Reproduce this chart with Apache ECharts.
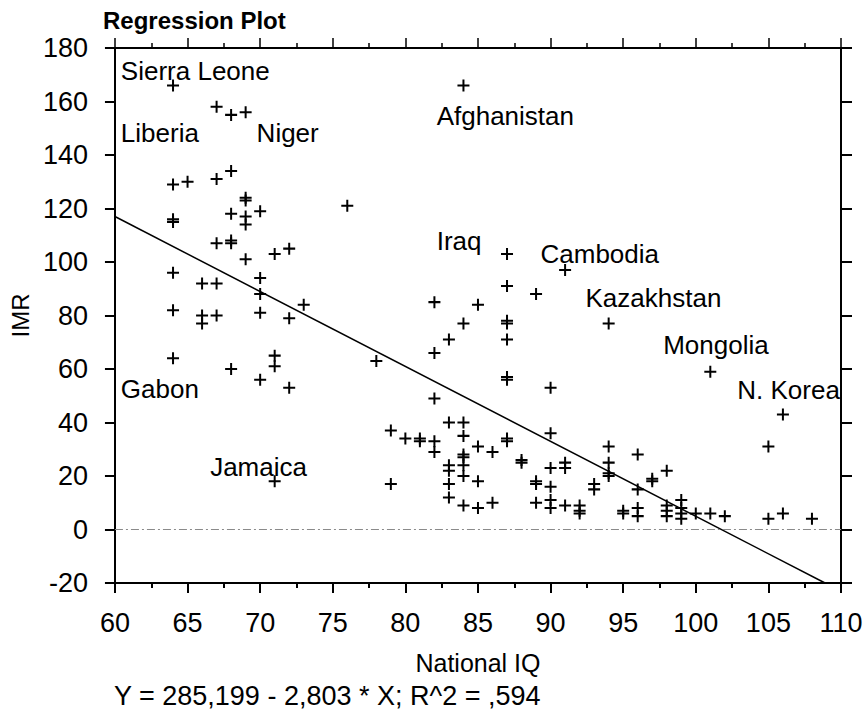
<!DOCTYPE html>
<html>
<head>
<meta charset="utf-8">
<title>Regression Plot</title>
<script src="https://cdn.jsdelivr.net/npm/echarts@6/dist/echarts.min.js"></script>
<style>
  html, body { margin: 0; padding: 0; background: #fff; }
  #chart { width: 868px; height: 712px; }
</style>
</head>
<body>
<div id="chart"></div>
<script>
// National IQ (x) and infant mortality rate (y), one entry per country
const iq = [
  64, 67, 68, 69, 64, 65, 67, 68, 69, 69, 70, 68, 69, 69, 64, 64, 76,
  67, 68, 68, 69, 71, 72, 64, 66, 67, 70, 70, 73,
  64, 66, 66, 67, 70, 72, 64, 68, 71, 71, 70, 72, 71,
  84, 87, 91, 87, 89, 82, 85, 84, 87, 87, 83, 87, 94, 82, 78, 87, 87, 90, 82, 101, 106,
  83, 84, 84, 79, 80, 81, 81, 82, 82, 85, 86, 87, 87, 90, 88, 88, 84, 84,
  83, 83, 84, 84, 90, 91, 91, 79, 83, 85, 89, 89, 90, 83, 84, 85, 86, 89, 90, 90, 91, 92, 92, 92,
  94, 94, 94, 94, 96, 98, 97, 97, 96, 93, 93, 95, 95, 96, 96, 98, 98, 98,
  99, 99, 99, 99, 100, 101, 102, 105, 105, 106, 108
];
const imr = [
  166, 158, 155, 156, 129, 130, 131, 134, 123, 124, 119, 118, 117, 114, 115, 116, 121,
  107, 107, 108, 101, 103, 105, 96, 92, 92, 94, 88, 84,
  82, 80, 77, 80, 81, 79, 64, 60, 65, 61, 56, 53, 18,
  166, 103, 97, 91, 88, 85, 84, 77, 77, 78, 71, 71, 77, 66, 63, 56, 57, 53, 49, 59, 43,
  40, 40, 35, 37, 34, 33, 34, 33, 29, 31, 29, 33, 34, 36, 25, 26, 27, 28,
  24, 22, 24, 20, 23, 25, 23, 17, 17, 18, 17, 18, 16, 12, 9, 8, 10, 10, 11, 8, 9, 9, 7, 6,
  31, 25, 20, 21, 28, 22, 18, 19, 15, 15, 17, 6, 7, 8, 5, 5, 7, 9,
  11, 8, 6, 4, 6, 6, 5, 31, 4, 6, 4
];

// fitted line Y = 285,199 - 2,803 * X, drawn from the left edge to the bottom edge
const fitX = [60, 108.9];
const fitY = [117.0, -20];

// country annotations (left edge of text, vertical middle)
const labelNames = ['Sierra Leone', 'Liberia', 'Niger', 'Afghanistan', 'Iraq', 'Cambodia',
  'Kazakhstan', 'Mongolia', 'N. Korea', 'Gabon', 'Jamaica'];
const labelX = [60.75, 60.75, 70.1, 82.5, 82.5, 89.65, 92.75, 98.1, 103.2, 60.75, 66.9];
const labelY = [171.3, 148.4, 148.4, 154.4, 108, 103.1, 86.6, 69, 52.2, 52.5, 23.3];

const equationText = 'Y = 285,199 - 2,803 * X; R^2 = ,594';

const FONT = 'Arial, "Liberation Sans", Helvetica, sans-serif';
const plus = 'path://M5,0H7V5H12V7H7V12H5V7H0V5H5Z';

const chart = echarts.init(document.getElementById('chart'), null, { renderer: 'svg' });

const axisLine = { show: true, onZero: false, lineStyle: { color: '#000', width: 2 } };

chart.setOption({
  backgroundColor: '#fff',
  animation: false,
  title: {
    text: 'Regression Plot',
    left: 98,
    top: 3,
    textStyle: { fontFamily: FONT, fontSize: 24, fontWeight: 'bold', color: '#000' },
  },
  graphic: [{
    type: 'text',
    left: 114,
    top: 682,
    style: { text: equationText, font: '27px ' + FONT, fill: '#000' },
  }],
  grid: { left: 110, right: 27, top: 48, bottom: 129 },
  xAxis: [
    {
      type: 'value',
      position: 'bottom',
      min: 60,
      max: 110,
      interval: 5,
      name: 'National IQ',
      nameLocation: 'middle',
      nameGap: 67,
      nameTextStyle: { fontFamily: FONT, fontSize: 25, color: '#000' },
      axisLine,
      axisTick: { show: true, length: 10, lineStyle: { color: '#000', width: 2 } },
      minorTick: { show: true, splitNumber: 2, length: 5, lineStyle: { color: '#000', width: 2 } },
      axisLabel: { margin: 26, fontFamily: FONT, fontSize: 27, color: '#000' },
      splitLine: { show: false },
    },
    {
      type: 'value',
      position: 'top',
      min: 60,
      max: 110,
      interval: 5,
      axisLine,
      axisTick: { show: true, length: 10, lineStyle: { color: '#000', width: 1.5 } },
      minorTick: { show: true, splitNumber: 2, length: 5, lineStyle: { color: '#000', width: 1.5 } },
      axisLabel: { show: false },
      splitLine: { show: false },
    },
  ],
  yAxis: [
    {
      type: 'value',
      position: 'left',
      min: -20,
      max: 180,
      interval: 20,
      name: 'IMR',
      nameLocation: 'middle',
      nameGap: 80,
      nameTextStyle: { fontFamily: FONT, fontSize: 24, color: '#000' },
      axisLine,
      axisTick: { show: true, length: 10, lineStyle: { color: '#000', width: 2 } },
      axisLabel: { margin: 27, fontFamily: FONT, fontSize: 27, color: '#000' },
      splitLine: { show: false },
    },
    {
      type: 'value',
      position: 'right',
      min: -20,
      max: 180,
      interval: 20,
      axisLine,
      axisTick: { show: true, length: 11, lineStyle: { color: '#000', width: 2 } },
      axisLabel: { show: false },
      splitLine: { show: false },
    },
  ],
  series: [
    {
      name: 'Countries',
      type: 'scatter',
      symbol: plus,
      symbolSize: 12,
      itemStyle: { color: '#000', opacity: 1 },
      data: iq.map((x, i) => [x, imr[i]]),
      z: 3,
    },
    {
      name: 'Fit',
      type: 'line',
      showSymbol: false,
      symbol: 'none',
      lineStyle: { color: '#000', width: 1.5 },
      data: fitX.map((x, i) => [x, fitY[i]]),
      markLine: {
        silent: true,
        symbol: 'none',
        label: { show: false },
        lineStyle: { color: '#8a8a8a', type: [8, 3, 2, 3], width: 1 },
        data: [{ yAxis: 0 }],
      },
      z: 2,
    },
    {
      name: 'Labels',
      type: 'scatter',
      symbolSize: 0,
      itemStyle: { color: '#000', opacity: 1 },
      data: labelX.map((x, i) => ({ value: [x, labelY[i]], name: labelNames[i] })),
      label: {
        show: true,
        position: 'inside',
        align: 'left',
        verticalAlign: 'middle',
        offset: [-5, 0],
        formatter: (p) => p.name,
        fontFamily: FONT,
        fontSize: 26,
        color: '#000',
        textBorderWidth: 0,
      },
      z: 4,
    },
  ],
});
</script>
</body>
</html>
